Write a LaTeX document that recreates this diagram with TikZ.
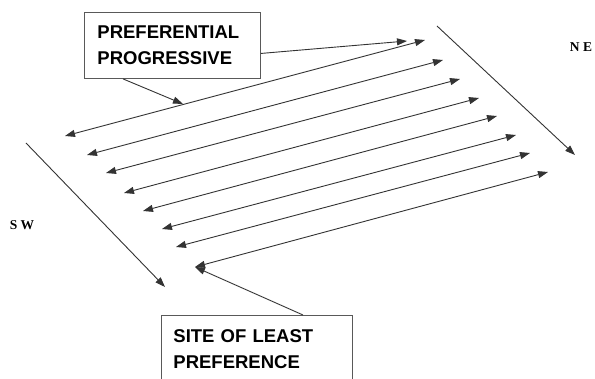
\documentclass[tikz,border=0pt]{standalone}
\usepackage{fontspec}
\setmainfont{Liberation Serif}
\setsansfont{Liberation Sans}
\usetikzlibrary{arrows.meta,calc,positioning}

\begin{document}
\begin{tikzpicture}[x=1pt, y=-1pt, >={Triangle[length=10pt,width=7pt]},
  flowline/.style={draw=black!80, line width=0.9pt},
  labelbox/.style={draw=black!65, line width=0.9pt, align=left, anchor=north west,
    font=\sffamily\bfseries\fontsize{18.5}{26}\selectfont, inner xsep=12pt},
  compass/.style={font=\bfseries\fontsize{13.5}{15}\selectfont}]

  \clip (0,0) rectangle (595,379);

  %-------------------------
  % Label boxes
  %-------------------------
  \node[labelbox, text width=150pt, minimum height=66pt, inner xsep=13pt] (pref) at (84,12)
    {PREFERENTIAL\\PROGRESSIVE};
  \node[labelbox, text width=167pt, inner ysep=14pt] (least) at (161,315)
    {SITE OF LEAST\\PREFERENCE};

  %-------------------------
  % Parallel double arrows
  %-------------------------
  \foreach \i/\lx/\ly/\rx/\ry in {1/65/136/425/40, 2/87/155/443/60, 3/106/173/460/79,
      4/124/193/479/98, 5/143/211/497/116, 6/162/229/516/135, 7/176/247/530/153,
      8/195/267/548/172} {
    \coordinate (w\i) at (\lx,\ly);
    \coordinate (e\i) at (\rx,\ry);
    \draw[flowline, <->] (w\i) -- (e\i);
  }

  % Pointers from the boxes
  \coordinate (tipA) at (407,41);
  \coordinate (tipB) at (183,104);
  \draw[flowline, ->] ([yshift=-8pt]pref.east) -- (tipA);
  \draw[flowline, ->] ([xshift=39pt]pref.south west) -- (tipB);
  \draw[flowline, ->] ([xshift=142pt]least.north west) -- (w8);

  %-------------------------
  % Compass directions
  %-------------------------
  \coordinate (neA) at (437,26);
  \coordinate (neB) at (575,155);
  \coordinate (swA) at (26,143);
  \coordinate (swB) at (165,287);
  \draw[flowline, ->] (neA) -- (neB);
  \draw[flowline, ->] (swA) -- (swB);
  \node[compass] (ne) at (581,47) {N E};
  \node[compass] (sw) at (22,225) {S W};

\end{tikzpicture}
\end{document}
